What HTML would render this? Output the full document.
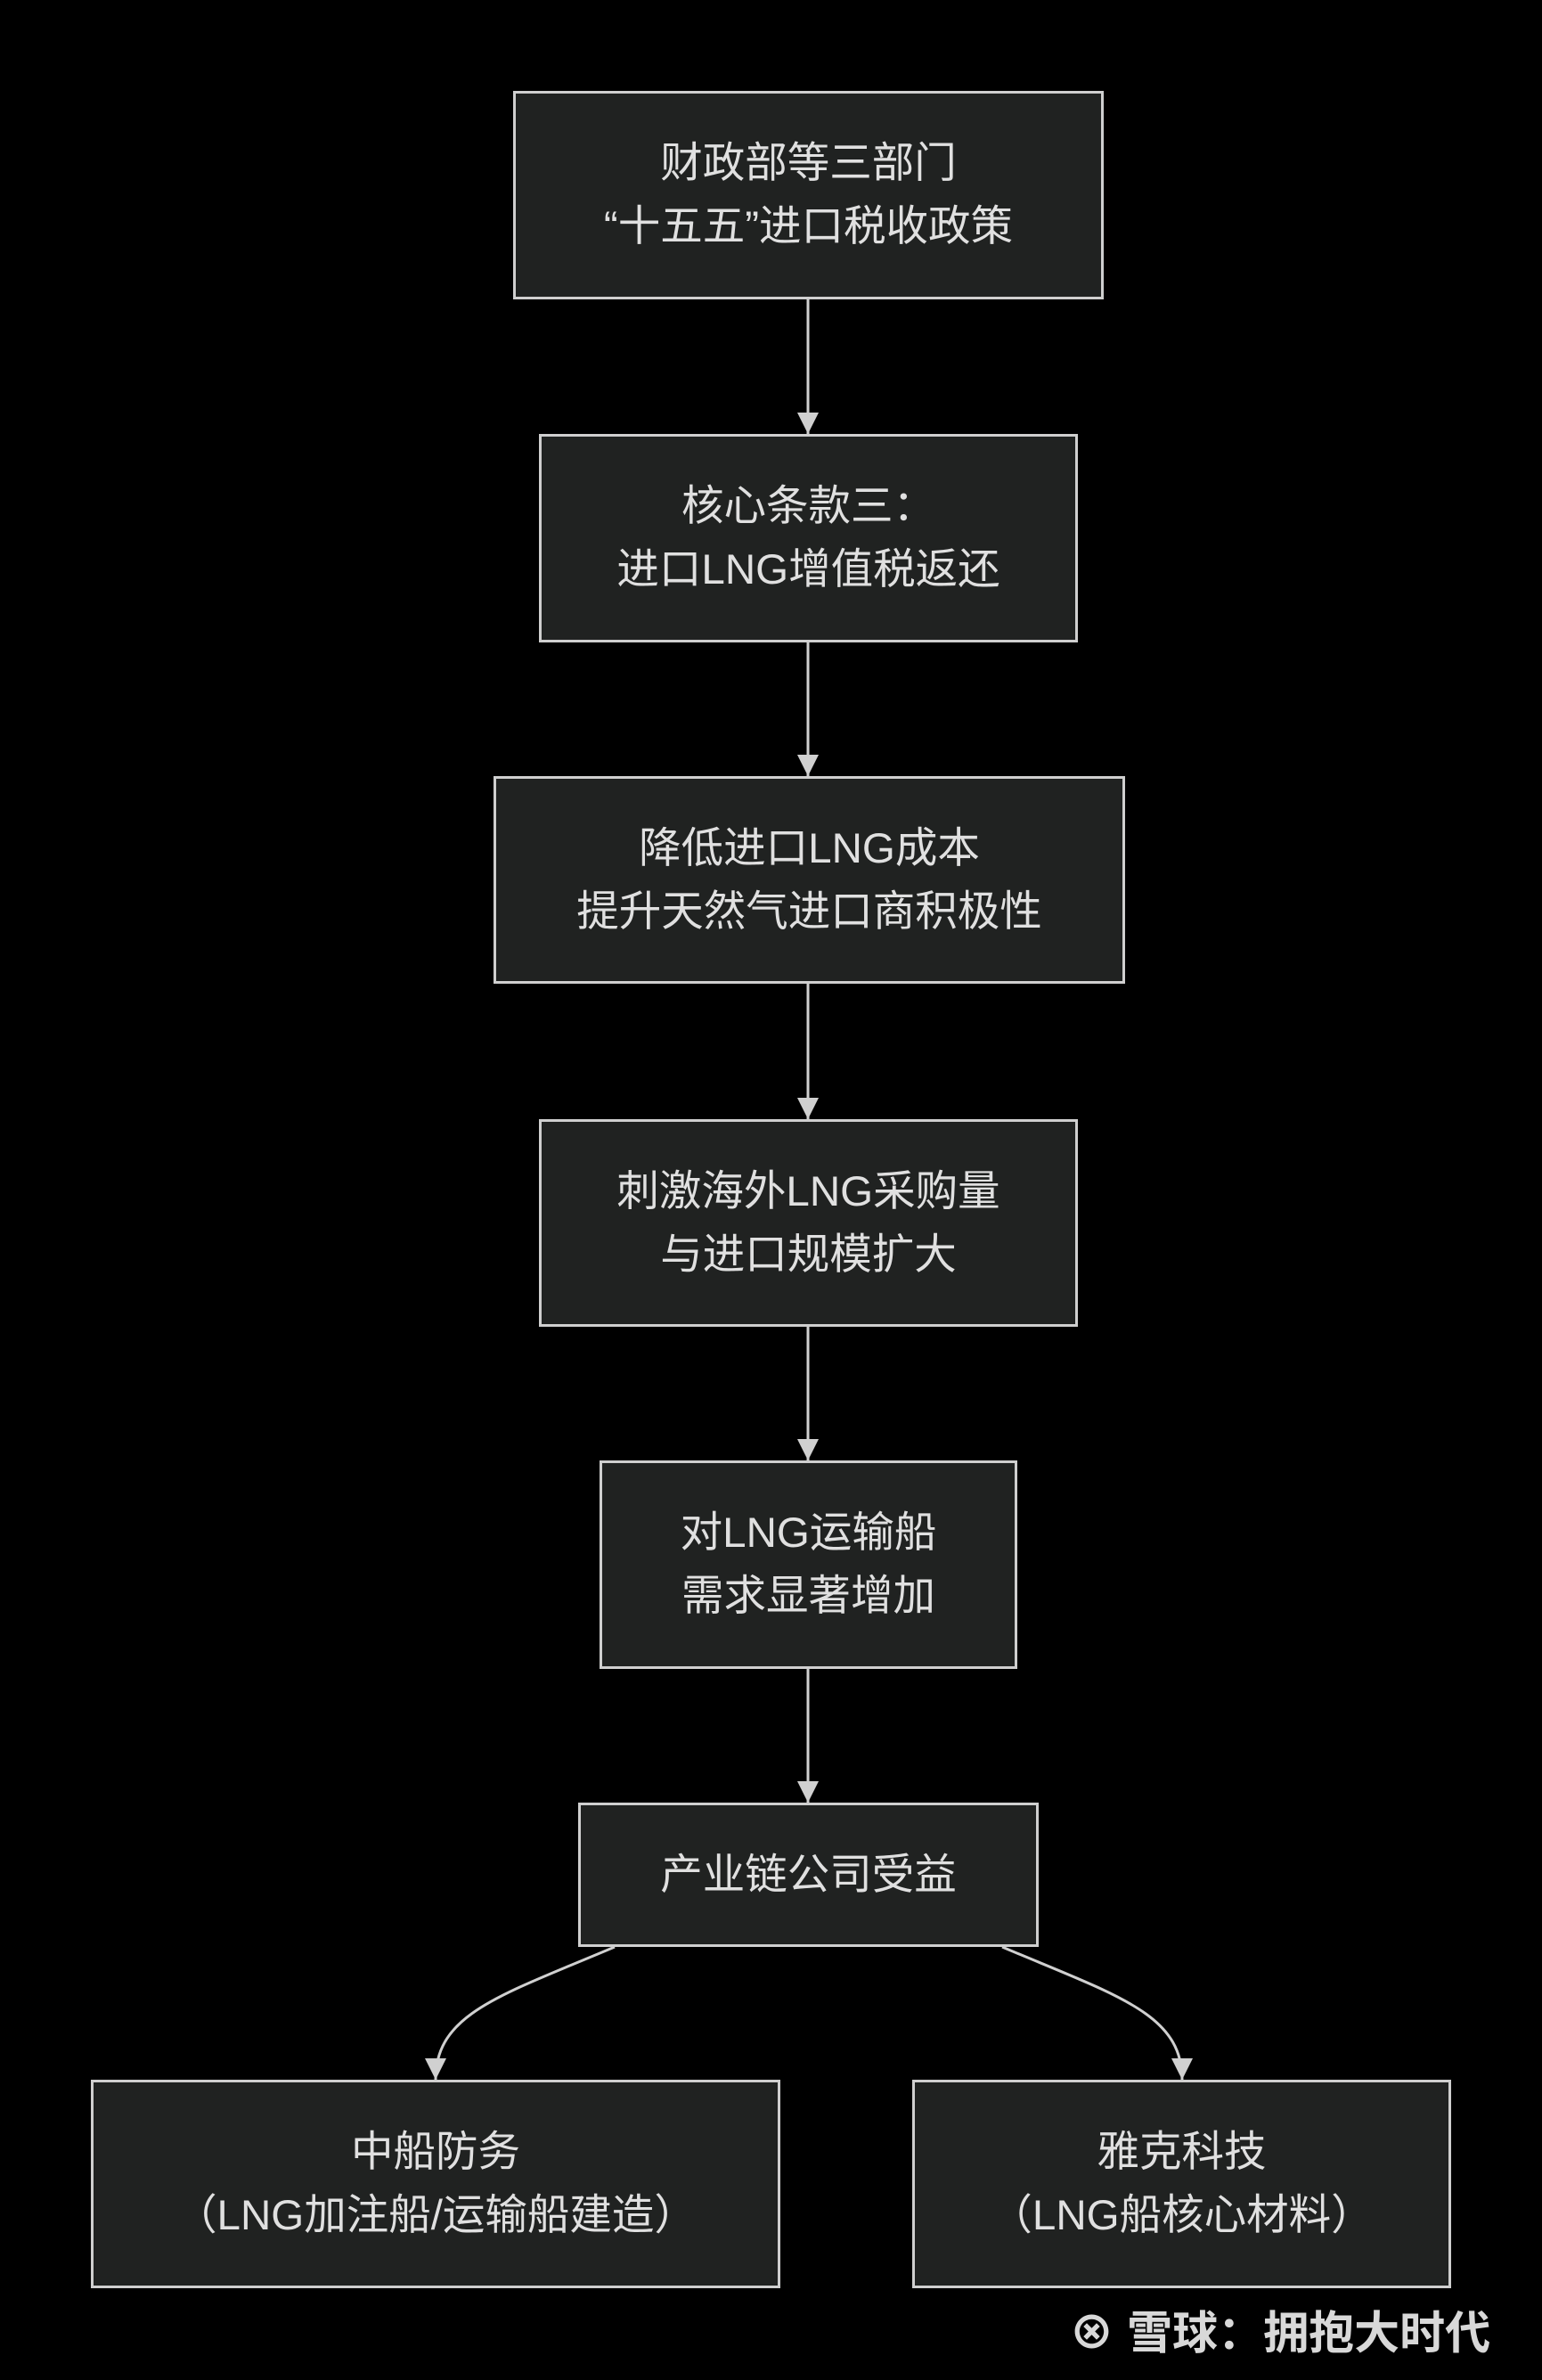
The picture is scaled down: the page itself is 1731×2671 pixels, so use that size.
<!DOCTYPE html>
<html><head><meta charset="utf-8"><style>
html,body{margin:0;padding:0;background:#000;}
body{width:1731px;height:2671px;position:relative;overflow:hidden;font-family:"Liberation Sans","Noto Sans CJK SC",sans-serif;}
.b{position:absolute;box-sizing:border-box;background:#202221;border:3px solid #cfcfcf;color:#e0e0e0;font-size:47.5px;line-height:71px;display:flex;align-items:center;justify-content:center;text-align:center;}
svg{position:absolute;left:0;top:0;}
.wm{position:absolute;left:1200px;top:2577px;color:#d8d8d8;font-size:51px;font-weight:bold;font-family:"Liberation Sans","Noto Sans CJK SC",sans-serif;white-space:nowrap;}
</style></head><body>
<svg width="1731" height="2671">
<defs>
<marker id="m" viewBox="0 0 10 10" markerWidth="24" markerHeight="24" refX="10" refY="5" orient="auto" markerUnits="userSpaceOnUse"><path d="M0,0 L10,5 L0,10 z" fill="#d0d0d0"/></marker></defs>
<g stroke="#d0d0d0" stroke-width="3" fill="none">
<line x1="907" y1="336" x2="907" y2="487" marker-end="url(#m)"/>
<line x1="907" y1="721" x2="907" y2="871" marker-end="url(#m)"/>
<line x1="907" y1="1104" x2="907" y2="1256" marker-end="url(#m)"/>
<line x1="907" y1="1489" x2="907" y2="1639" marker-end="url(#m)"/>
<line x1="907" y1="1873" x2="907" y2="2023" marker-end="url(#m)"/>
<path d="M690,2185 C560,2240 489,2260 489,2334" marker-end="url(#m)"/>
<path d="M1125,2185 C1255,2240 1327,2260 1327,2334" marker-end="url(#m)"/>
</g></svg>
<div class="b" style="left:576px;top:102px;width:663px;height:234px">财政部等三部门<br>“十五五”进口税收政策</div>
<div class="b" style="left:605px;top:487px;width:605px;height:234px">核心条款三：<br>进口LNG增值税返还</div>
<div class="b" style="left:554px;top:871px;width:709px;height:233px">降低进口LNG成本<br>提升天然气进口商积极性</div>
<div class="b" style="left:605px;top:1256px;width:605px;height:233px">刺激海外LNG采购量<br>与进口规模扩大</div>
<div class="b" style="left:673px;top:1639px;width:469px;height:234px">对LNG运输船<br>需求显著增加</div>
<div class="b" style="left:649px;top:2023px;width:517px;height:162px">产业链公司受益</div>
<div class="b" style="left:102px;top:2334px;width:774px;height:234px">中船防务<br>（LNG加注船/运输船建造）</div>
<div class="b" style="left:1024px;top:2334px;width:605px;height:234px">雅克科技<br>（LNG船核心材料）</div>
<div class="wm">⊗ 雪球：拥抱大时代</div>
</body></html>
